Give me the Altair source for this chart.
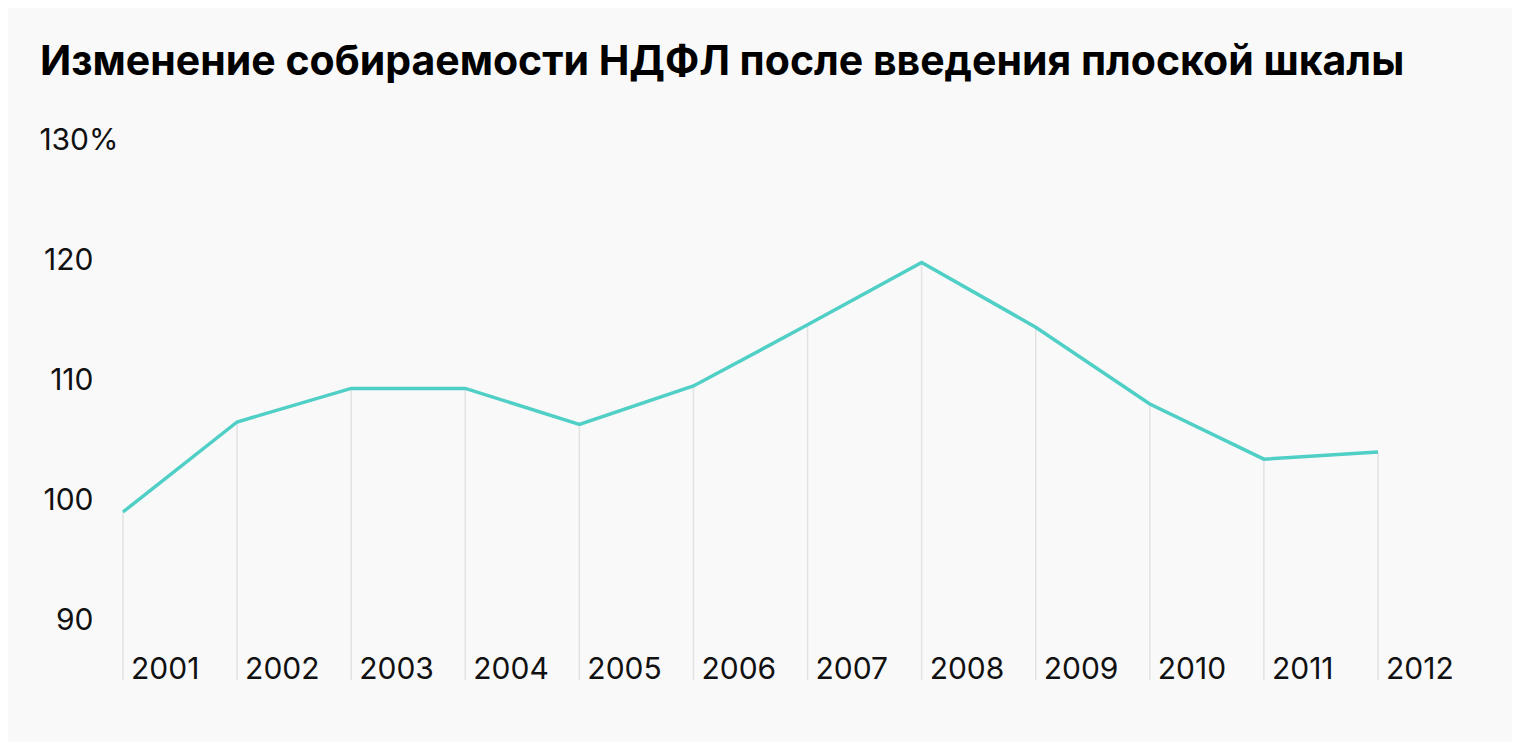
import altair as alt
import pandas as pd

years = [2001, 2002, 2003, 2004, 2005, 2006, 2007, 2008, 2009, 2010, 2011, 2012]
values = [99.0, 106.5, 109.3, 109.3, 106.3, 109.5, 114.6, 119.8, 114.4, 108.0, 103.4, 104.0]
y_ticks = [90, 100, 110, 120, 130]
title_text = "Изменение собираемости НДФЛ после введения плоской шкалы"

df = pd.DataFrame({"year": years, "value": values})
FONT = "Inter"

x = alt.X("year:Q", scale=alt.Scale(domain=[2001, 2012], nice=False, zero=False), axis=None)
y_scale = alt.Scale(domain=[85, 130], nice=False, zero=False)

rules = alt.Chart(df).mark_rule(color="#e2e2e2", strokeWidth=1.5).encode(
    x=x,
    y=alt.Y("value:Q", scale=y_scale,
            axis=alt.Axis(values=y_ticks, domain=False, ticks=False, grid=False,
                          labelFont=FONT, labelFontSize=30, labelColor="#111111",
                          labelBaseline="middle",
                          labelExpr="datum.value == 130 ? '130%' : datum.label",
                          labelPadding={"condition": {"test": "datum.value == 130", "value": 5}, "value": 30},
                          title=None)),
    y2=alt.datum(85),
)

line = alt.Chart(df).mark_line(color="#4fcfc5", strokeWidth=3.5, strokeJoin="miter").encode(
    x=x, y=alt.Y("value:Q", scale=y_scale)
)

labels = alt.Chart(df).mark_text(
    align="left", baseline="alphabetic", dx=8, dy=-1,
    font=FONT, fontSize=30, color="#111111"
).encode(
    x=x, y=alt.datum(85), text=alt.Text("year:N")
)

chart = alt.layer(rules, line, labels).properties(
    width=1255, height=540,
    padding={"left": 115, "top": 132, "right": 134, "bottom": 62},
    autosize=alt.AutoSizeParams(type="none"),
    background="#f9f9f9",
    title=alt.TitleParams(title_text, anchor="start", frame="group", dx=-83, offset=9,
                          font=FONT, fontSize=41, fontWeight="bold", color="#000000",
                          baseline="alphabetic"),
).configure_view(stroke=None)

chart.save("out.html", embed_options={"renderer": "svg", "actions": False})
